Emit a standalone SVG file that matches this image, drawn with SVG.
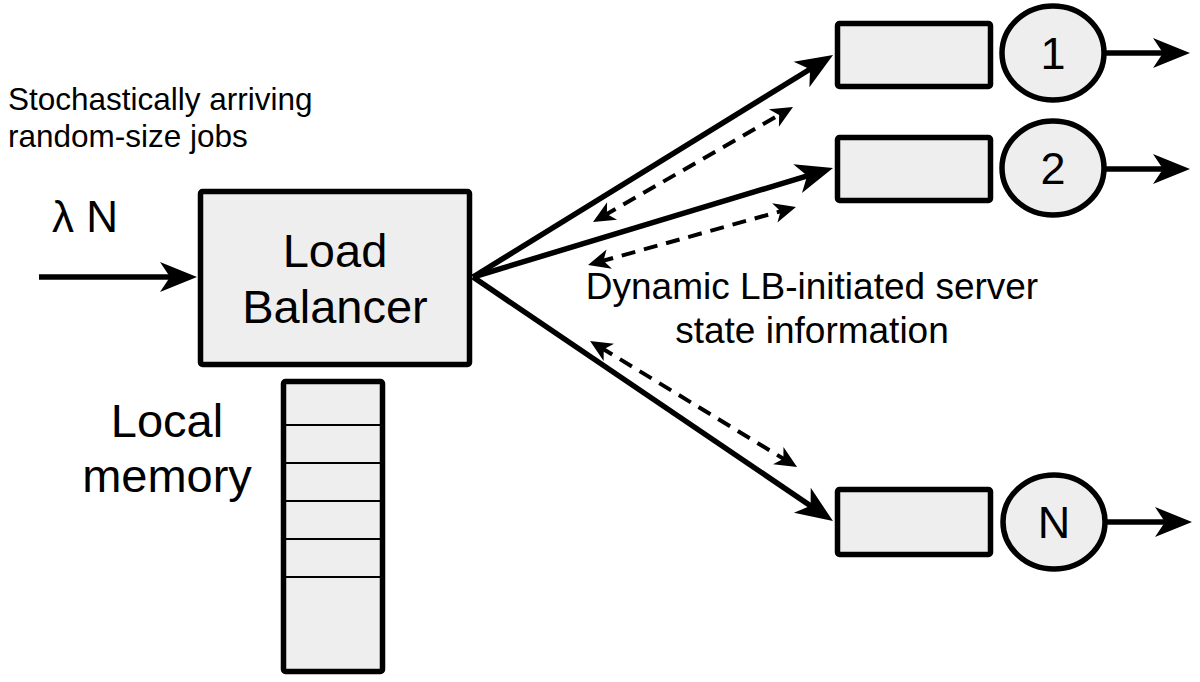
<svg xmlns="http://www.w3.org/2000/svg" width="1200" height="682" viewBox="0 0 1200 682">
  <style>
    .box { fill: #eeeeee; stroke: #000; stroke-width: 5.5; }
    .cell { stroke: #000; stroke-width: 2; }
    .txt { font-family: "Liberation Sans", Arial, sans-serif; fill: #000; }
    .flow { stroke: #000; stroke-width: 5.5; fill: none; }
    .info { stroke: #000; stroke-width: 4; fill: none; stroke-dasharray: 14 9; }
  </style>
  <defs>
    <marker id="head" markerUnits="userSpaceOnUse" markerWidth="1" markerHeight="1" overflow="visible" orient="auto">
      <path d="M20,0 L-17,-15 L-7,0 L-17,15 Z" fill="#000"/>
    </marker>
    <marker id="dhead" markerUnits="userSpaceOnUse" markerWidth="1" markerHeight="1" overflow="visible" orient="auto-start-reverse">
      <path d="M12,0 L-10,-10 L-4,0 L-10,10 Z" fill="#000"/>
    </marker>
  </defs>

  <rect width="1200" height="682" fill="#fff"/>

  <!-- caption for the arrival stream -->
  <g id="arrivals-label">
    <text class="txt" x="8" y="110" font-size="31.5">Stochastically arriving</text>
    <text class="txt" x="8" y="147" font-size="31.5">random-size jobs</text>
    <text class="txt" x="52" y="232" font-size="44">λ N</text>
  </g>

  <!-- load balancer -->
  <g id="load-balancer">
    <rect class="box" x="200.5" y="191.5" width="269" height="173" rx="2"/>
    <text class="txt" x="335" y="267" font-size="47" text-anchor="middle">Load</text>
    <text class="txt" x="335" y="323" font-size="47" text-anchor="middle">Balancer</text>
  </g>

  <!-- local memory stack -->
  <g id="local-memory">
    <rect class="box" x="283.5" y="381.5" width="99" height="290" rx="2"/>
    <line class="cell" x1="284" y1="425" x2="382" y2="425"/>
    <line class="cell" x1="284" y1="463" x2="382" y2="463"/>
    <line class="cell" x1="284" y1="501" x2="382" y2="501"/>
    <line class="cell" x1="284" y1="539" x2="382" y2="539"/>
    <line class="cell" x1="284" y1="577" x2="382" y2="577"/>
    <text class="txt" x="167" y="437" font-size="47" text-anchor="middle">Local</text>
    <text class="txt" x="167" y="492" font-size="47" text-anchor="middle">memory</text>
  </g>

  <!-- server 1 -->
  <g id="server-1">
    <rect class="box" x="837.5" y="23.5" width="153" height="63" rx="2"/>
    <ellipse class="box" cx="1053" cy="53" rx="51" ry="47"/>
    <text class="txt" x="1053" y="69" font-size="45" text-anchor="middle">1</text>
  </g>

  <!-- server 2 -->
  <g id="server-2">
    <rect class="box" x="837.5" y="137.5" width="153" height="63" rx="2"/>
    <ellipse class="box" cx="1053" cy="168" rx="51" ry="47"/>
    <text class="txt" x="1053" y="184" font-size="45" text-anchor="middle">2</text>
  </g>

  <!-- server N -->
  <g id="server-N">
    <rect class="box" x="837.5" y="489.5" width="153" height="65" rx="2"/>
    <ellipse class="box" cx="1054" cy="522" rx="51" ry="47"/>
    <text class="txt" x="1054" y="538" font-size="45" text-anchor="middle">N</text>
  </g>

  <!-- caption for the state-information exchange -->
  <g id="state-info-label">
    <text class="txt" x="812" y="299" font-size="37" text-anchor="middle">Dynamic LB-initiated server</text>
    <text class="txt" x="812" y="343" font-size="37" text-anchor="middle">state information</text>
  </g>

  <!-- connectors -->
  <g id="connectors">
    <!-- incoming jobs -->
    <line class="flow" x1="39" y1="277" x2="177" y2="277" marker-end="url(#head)"/>
    <!-- dispatch to servers -->
    <line class="flow" x1="473" y1="277" x2="816" y2="65.5" marker-end="url(#head)"/>
    <line class="flow" x1="473" y1="277" x2="813.9" y2="173.8" marker-end="url(#head)"/>
    <line class="flow" x1="473" y1="277" x2="816.4" y2="509.8" marker-end="url(#head)"/>
    <!-- departures -->
    <line class="flow" x1="1104" y1="53" x2="1170" y2="53" marker-end="url(#head)"/>
    <line class="flow" x1="1104" y1="169" x2="1170" y2="169" marker-end="url(#head)"/>
    <line class="flow" x1="1105" y1="522" x2="1172" y2="522" marker-end="url(#head)"/>
    <!-- state queries -->
    <line class="info" x1="603.4" y1="216" x2="782.6" y2="113" marker-start="url(#dhead)" marker-end="url(#dhead)"/>
    <line class="info" x1="599.6" y1="261.8" x2="784.4" y2="210.2" marker-start="url(#dhead)" marker-end="url(#dhead)"/>
    <line class="info" x1="600.3" y1="347.2" x2="786.8" y2="460.8" marker-start="url(#dhead)" marker-end="url(#dhead)"/>
  </g>
</svg>
